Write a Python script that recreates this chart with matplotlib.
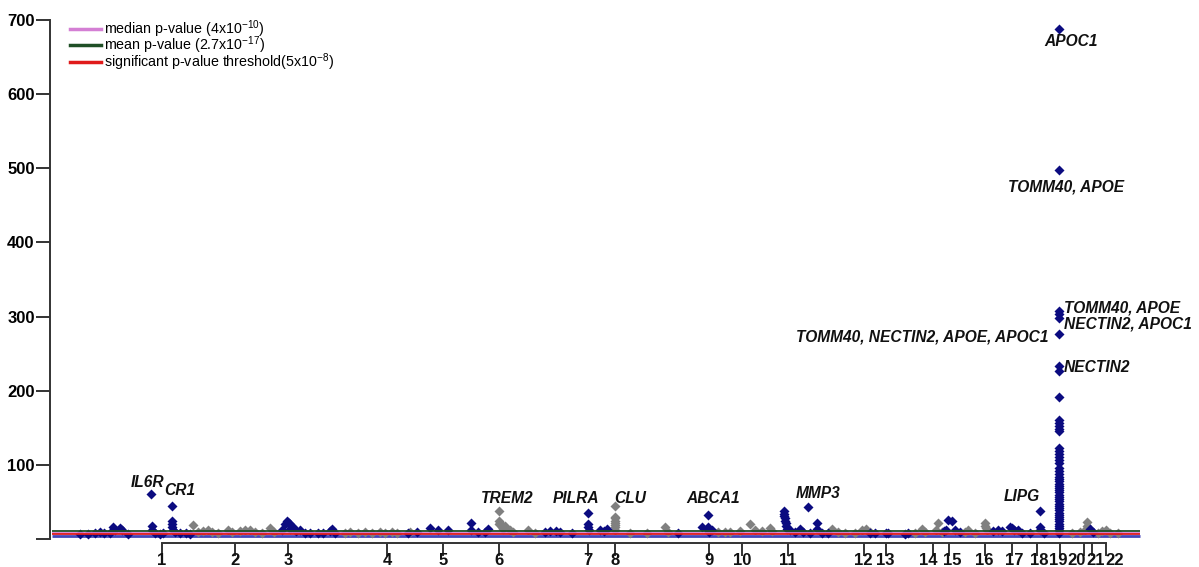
import matplotlib
matplotlib.use("Agg")
import matplotlib.pyplot as plt
from matplotlib.lines import Line2D

plt.rcParams['font.family'] = ['Liberation Sans', 'DejaVu Sans']
plt.rcParams['mathtext.fontset'] = 'custom'
plt.rcParams['mathtext.rm'] = 'Liberation Sans'
plt.rcParams['mathtext.it'] = 'Liberation Sans:italic'
plt.rcParams['mathtext.bf'] = 'Liberation Sans:bold'

# ---------------- data ----------------
chrom_labels = [str(i) for i in range(1, 23)]
chrom_pos = [162, 235, 288, 387, 443, 499, 588, 615, 709, 742, 788,
             864, 886, 933, 949, 985, 1012, 1037, 1060, 1084, 1092, 1106]
chrom_label_pos = [162, 235, 288, 387, 443, 499, 588, 615, 709, 742, 788,
                   863, 885, 928, 952, 984, 1014, 1039, 1058, 1077, 1096, 1115]

navy_x = [80, 88, 95, 100, 104, 110, 113, 115, 120, 122, 128, 151, 152, 152, 155, 160, 163,
          172, 172, 172, 172, 173, 175, 180, 186, 190,
          282, 285, 287, 289, 291, 290, 293, 296, 300, 305, 310, 318, 323, 332, 330, 335,
          408, 417, 430, 438, 448, 471, 471, 478, 485, 488,
          545, 550, 556, 560, 572, 588, 588, 588, 589, 600, 604, 607,
          678, 702, 708, 708, 708, 709, 712,
          784, 784, 784, 785, 785, 786, 786, 787, 790, 795, 800, 803, 808, 810, 817, 817, 822, 828,
          870, 875, 886, 888, 905, 908,
          944, 946, 948, 952, 955, 960,
          993, 998, 1002, 1010, 1012, 1014, 1018, 1022, 1030, 1040, 1040, 1040, 1044,
          1090, 1093]
navy_y = [7, 7, 8, 10, 9, 9, 16, 13, 15, 12, 7, 61, 18, 12, 8, 7, 9,
          45, 25, 21, 17, 13, 10, 9, 8, 7,
          12, 20, 24, 22, 18, 14, 16, 11, 13, 9, 8, 8, 8, 14, 11, 8,
          8, 10, 15, 13, 12, 22, 12, 10, 10, 14,
          10, 11, 11, 10, 8, 36, 20, 16, 12, 12, 11, 14,
          8, 16, 33, 17, 13, 10, 12,
          38, 34, 31, 28, 25, 22, 18, 14, 12, 10, 14, 10, 44, 9, 22, 14, 9, 8,
          8, 8, 8, 9, 7, 8,
          11, 12, 26, 24, 12, 10,
          11, 12, 11, 17, 15, 13, 13, 9, 8, 38, 16, 12, 9,
          14, 10]

gray_x = [193, 198, 203, 208, 212, 218, 228, 232, 240, 245, 250, 255, 262, 270, 274,
          345, 350, 358, 365, 372, 380, 385, 392, 397, 410,
          499, 499, 499, 500, 502, 503, 505, 510, 513, 528, 535,
          615, 615, 615, 615, 615, 615, 615, 615, 630, 647, 665, 668,
          718, 725, 730, 740, 750, 755, 762, 770, 772,
          832, 838, 845, 855, 862, 866, 870,
          915, 922, 925, 936, 938, 942, 965, 968, 975, 985, 985, 986, 987,
          1072, 1080, 1087, 1087, 1085, 1098, 1102, 1106, 1110, 1118]
gray_y = [19, 10, 11, 12, 10, 8, 13, 10, 11, 12, 13, 10, 9, 15, 10,
          8, 10, 8, 10, 9, 10, 8, 10, 9, 10,
          38, 25, 20, 22, 17, 14, 18, 12, 10, 12, 8,
          45, 30, 28, 25, 22, 19, 16, 13, 8, 8, 16, 10,
          10, 10, 10, 11, 20, 12, 11, 15, 11,
          14, 10, 8, 9, 12, 14, 10,
          8, 14, 10, 13, 22, 10, 10, 12, 8, 22, 18, 15, 12,
          8, 10, 23, 18, 12, 9, 11, 12, 9, 8]

chr19_x = 1059
chr19_y = [688, 497, 308, 303, 298, 277, 233, 227, 192, 161, 157, 153, 149, 146,
           123, 119, 115, 111, 107, 103, 96, 92, 88, 84, 81, 78, 75, 72, 69, 66, 63,
           60, 57, 54, 51, 48, 45, 42, 39, 36, 33, 30, 27, 24, 21, 18, 15, 12, 9]

line_names = ['median p-value (4x10$^{-10}$)', 'mean p-value (2.7x10$^{-17}$)',
              'significant p-value threshold(5x10$^{-8}$)']
line_vals = [8.8, 11.0, 7.3]
line_colors = ['#d47fd4', '#1f4f26', '#e01b1b']
band_val = 4.0
line_span = (52, 1140)

gene_labels = ['APOC1', 'TOMM40, APOE', 'TOMM40, APOE', 'NECTIN2, APOC1',
               'TOMM40, NECTIN2, APOE, APOC1', 'NECTIN2', 'IL6R', 'CR1',
               'TREM2', 'PILRA', 'CLU', 'ABCA1', 'MMP3', 'LIPG']
gene_x = [1071, 1066, 1064, 1064, 1049, 1064, 148, 180, 507, 576, 630, 713, 818, 1022]
gene_y = [671, 475, 312, 290, 272, 231, 77, 65, 55, 55, 55, 55, 61, 57]
gene_ha = ['center', 'center', 'left', 'left', 'right', 'left', 'center', 'center',
           'center', 'center', 'center', 'center', 'center', 'center']

yticks = [0, 100, 200, 300, 400, 500, 600, 700]

# ---------------- figure ----------------
W, H = 1199, 567
AX_L, AX_B, AX_T = 50, 543, 10
fig = plt.figure(figsize=(W / 100, H / 100), dpi=100)
ax = fig.add_axes([AX_L / W, (H - AX_B) / H, (W - AX_L) / W, (AX_B - AX_T) / H])

ax.hlines(band_val, *line_span, color='#4646b8', lw=2.0, zorder=1)
for v, c in zip(line_vals, line_colors):
    ax.hlines(v, *line_span, color=c, lw=1.3, zorder=3)

ms = 4.8
ax.plot(gray_x, gray_y, 'D', color='#808080', ms=ms, mec='none', zorder=2)
ax.plot(navy_x, navy_y, 'D', color='#0b0b80', ms=ms, mec='none', zorder=2)
ax.plot([chr19_x] * len(chr19_y), chr19_y, 'D', color='#0b0b80', ms=ms, mec='none', zorder=2)

for t, x, y, ha in zip(gene_labels, gene_x, gene_y, gene_ha):
    ax.text(x, y, t, ha=ha, va='center', fontsize=11.2, fontweight='bold',
            fontstyle='italic', color='#111111', zorder=5)

ax.set_xlim(AX_L, W)
ax.set_ylim(-5.1, 713.2)

for s in ['top', 'right']:
    ax.spines[s].set_visible(False)
ax.spines['left'].set_bounds(0, 700)
ax.spines['bottom'].set_bounds(chrom_pos[0], chrom_pos[-1])
for s in ['left', 'bottom']:
    ax.spines[s].set_color('#333333')
    ax.spines[s].set_linewidth(1.4)

ax.set_yticks(yticks)
ax.set_yticklabels(['' if v == 0 else str(v) for v in yticks])
ax.tick_params(axis='y', length=10, width=1.4, color='#333333', labelsize=12, pad=1)
for lab in ax.get_yticklabels():
    lab.set_fontweight('bold')

# tick marks at chromosome positions; labels placed slightly offset like the original
ax.set_xticks(chrom_pos)
ax.set_xticklabels([])
ax.tick_params(axis='x', which='major', length=9, width=1.4, color='#333333')
label_y = -(553 - AX_B) / (AX_B - AX_T)
for lab, x in zip(chrom_labels, chrom_label_pos):
    ax.text(x, label_y, lab, transform=ax.get_xaxis_transform(), ha='center', va='top',
            fontsize=12, fontweight='bold', color='#111111', clip_on=False)

handles = [Line2D([], [], color=c, lw=2.5) for c in line_colors]
ax.legend(handles, line_names, loc='upper left', bbox_to_anchor=(70 / W, 1 - 18 / H),
          bbox_transform=fig.transFigure, frameon=False, fontsize=10.3,
          handlelength=2.2, handletextpad=0.15, labelspacing=-0.33,
          borderpad=0, borderaxespad=0)

fig.savefig('out.png', dpi=100)
